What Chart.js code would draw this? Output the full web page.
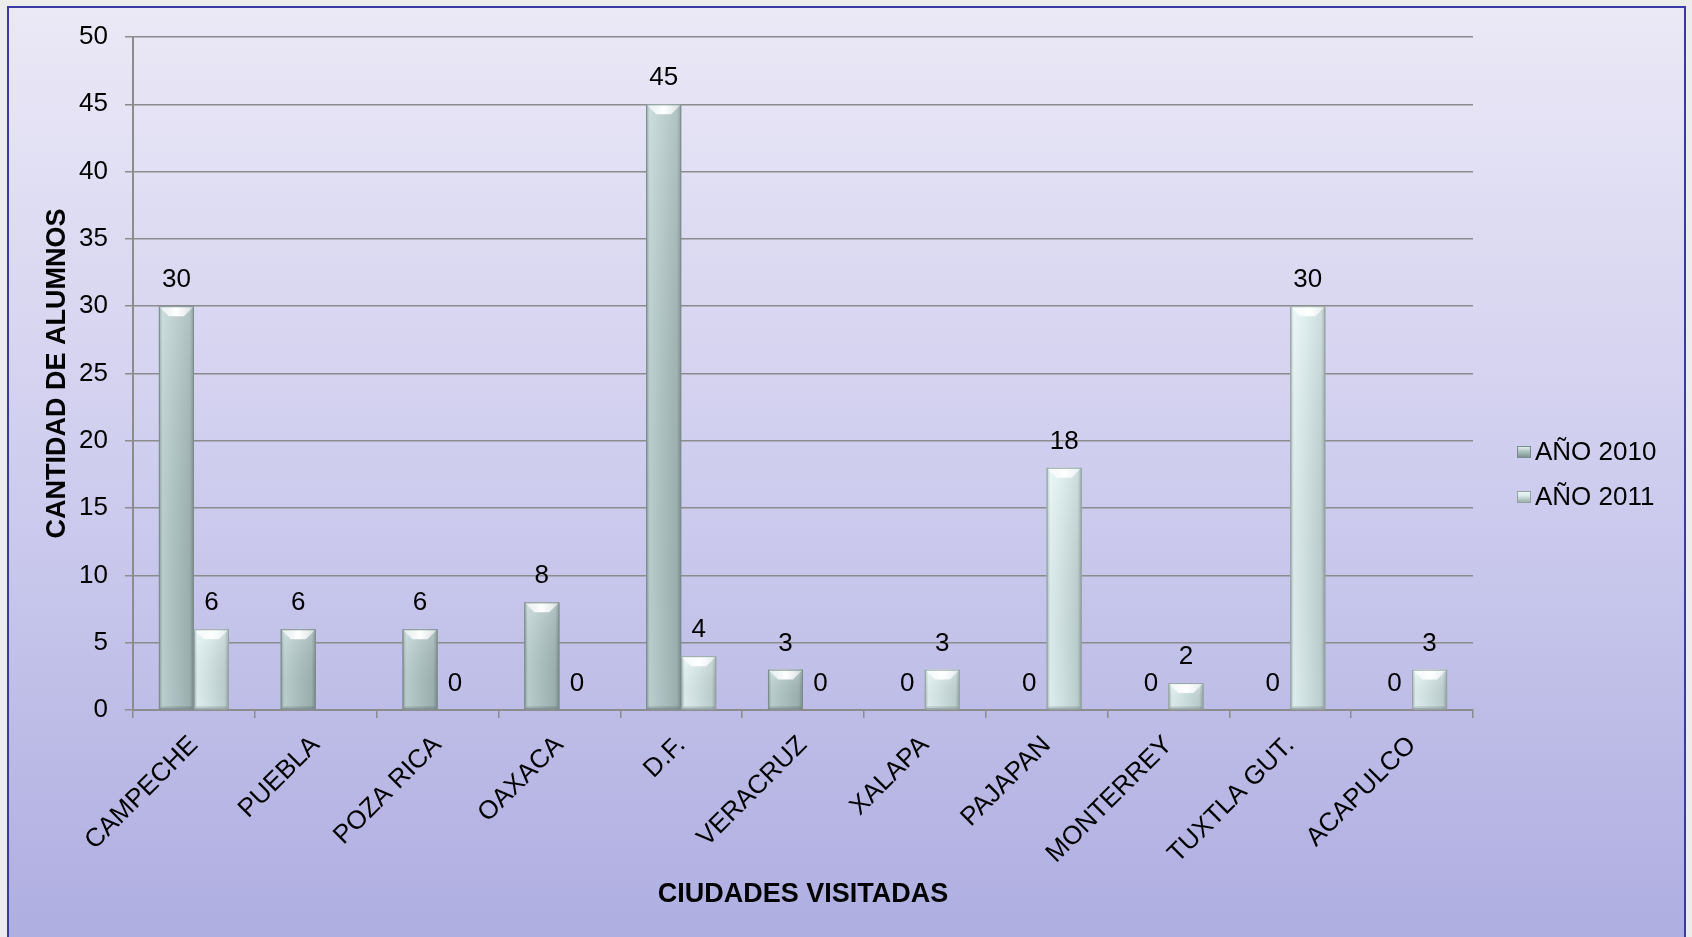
<!DOCTYPE html>
<html><head><meta charset="utf-8">
<script src="https://cdn.jsdelivr.net/npm/chart.js@4.4.1/dist/chart.umd.min.js"></script>
<style>html,body{margin:0;padding:0;background:#ececec;overflow:hidden}#wrap{width:1692px;height:937px;position:relative}canvas{display:block}</style>
</head><body><div id="wrap"><canvas id="c" width="1692" height="937"></canvas></div>
<script>
const categories = ['CAMPECHE','PUEBLA','POZA RICA','OAXACA','D.F.','VERACRUZ','XALAPA','PAJAPAN','MONTERREY','TUXTLA GUT.','ACAPULCO'];
const seriesNames = ['AÑO 2010','AÑO 2011'];
const values2010 = [30, 6, 6, 8, 45, 3, 0, 0, 0, 0, 0];
const values2011 = [6, null, 0, 0, 4, 0, 3, 18, 2, 30, 3];
const yMin = 0, yMax = 50, yStep = 5;
const xTitle = 'CIUDADES VISITADAS';
const yTitle = 'CANTIDAD DE ALUMNOS';

const FONT = "'Liberation Sans', Arial, sans-serif";
const FS = 26;
const palettes = [
  {edge:'#8b9d9d', light:'#c2d6d6', mid:'#b3c8c8', dark:'#a2b6b6', edge2:'#7a8c8c'},
  {edge:'#a8b9b9', light:'#e6f6f6', mid:'#d8eaea', dark:'#c4d6d6', edge2:'#93a3a3'}
];

const bgPlugin = {
  id:'bg',
  beforeDraw(chart){
    const ctx = chart.ctx, W = chart.width, H = chart.height;
    ctx.save();
    ctx.fillStyle = '#ececec';
    ctx.fillRect(0,0,W,H);
    const g = ctx.createLinearGradient(0,8,0,H);
    g.addColorStop(0,'#ebe9f6');
    g.addColorStop(0.5,'#cfcdee');
    g.addColorStop(1,'#aeaee1');
    ctx.fillStyle = g;
    ctx.fillRect(8,7,1677,H);
    ctx.strokeStyle = '#3a3aa2';
    ctx.lineWidth = 2;
    ctx.strokeRect(8,7,1677,H+10);
    ctx.restore();
  }
};

const bevelPlugin = {
  id:'bevel',
  afterDatasetsDraw(chart){
    const ctx = chart.ctx;
    ctx.save();
    chart.data.datasets.forEach((ds,di)=>{
      const meta = chart.getDatasetMeta(di);
      const p = palettes[di];
      meta.data.forEach((bar,i)=>{
        const v = ds.data[i];
        if (v === null || v === 0) return;
        const {x,y,base,width} = bar.getProps(['x','y','base','width'], true);
        const l = x - width/2, r = x + width/2, t = Math.min(y,base), b = Math.max(y,base);
        const h = b - t;
        const g = ctx.createLinearGradient(l,0,r,0);
        g.addColorStop(0,p.edge); g.addColorStop(0.1,p.light); g.addColorStop(0.45,p.mid);
        g.addColorStop(0.88,p.dark); g.addColorStop(1,p.edge2);
        ctx.fillStyle = g; ctx.fillRect(l,t,width,h);
        const vg = ctx.createLinearGradient(0,t,0,b);
        vg.addColorStop(0,'rgba(255,255,255,0.18)'); vg.addColorStop(1,'rgba(0,0,0,0.04)');
        ctx.fillStyle = vg; ctx.fillRect(l,t,width,h);
        const bv = Math.min(10, h/2, width/3.5);
        const tg = ctx.createLinearGradient(l,0,r,0);
        tg.addColorStop(0,'rgba(255,255,255,0.5)'); tg.addColorStop(0.5,'rgba(255,255,255,1)'); tg.addColorStop(1,'rgba(255,255,255,0.45)');
        ctx.beginPath(); ctx.moveTo(l,t); ctx.lineTo(r,t); ctx.lineTo(r-bv,t+bv); ctx.lineTo(l+bv,t+bv); ctx.closePath();
        ctx.fillStyle = tg; ctx.fill();
        ctx.beginPath(); ctx.moveTo(l,b); ctx.lineTo(r,b); ctx.lineTo(r-3,b-3); ctx.lineTo(l+3,b-3); ctx.closePath();
        ctx.fillStyle = 'rgba(0,0,0,0.12)'; ctx.fill();
        ctx.strokeStyle = p.edge2; ctx.lineWidth = 1;
        ctx.strokeRect(l+0.5,t+0.5,width-1,h-1);
      });
    });
    ctx.restore();
  }
};

const labelPlugin = {
  id:'vals',
  afterDatasetsDraw(chart){
    const ctx = chart.ctx;
    ctx.save();
    ctx.font = FS + 'px ' + FONT;
    ctx.fillStyle = '#000';
    ctx.textAlign = 'center';
    ctx.textBaseline = 'middle';
    chart.data.datasets.forEach((ds,di)=>{
      const meta = chart.getDatasetMeta(di);
      meta.data.forEach((bar,i)=>{
        const v = ds.data[i];
        if (v === null || v === undefined) return;
        const {x,y} = bar.getProps(['x','y'], true);
        ctx.fillText(String(v), x, y - 26);
      });
    });
    ctx.restore();
  }
};

const legendPlugin = {
  id:'customLegend',
  afterDraw(chart){
    const ctx = chart.ctx;
    ctx.save();
    ctx.font = FS + 'px ' + FONT;
    ctx.textBaseline = 'middle';
    ctx.textAlign = 'left';
    const ys = [452, 497];
    chart.data.datasets.forEach((ds,di)=>{
      const y = ys[di], p = palettes[di];
      const g = ctx.createLinearGradient(0,y-6,0,y+6);
      g.addColorStop(0,'#f4f8f8'); g.addColorStop(0.4,p.mid); g.addColorStop(1,p.edge2);
      ctx.fillStyle = g;
      ctx.fillRect(1517, y-6, 14, 12);
      ctx.strokeStyle = p.edge2; ctx.lineWidth = 1;
      ctx.strokeRect(1517.5, y-5.5, 13, 11);
      ctx.fillStyle = '#000';
      ctx.fillText(ds.label, 1535, y+1);
    });
    ctx.restore();
  }
};

new Chart(document.getElementById('c'), {
  type:'bar',
  data:{
    labels: categories,
    datasets:[
      {label: seriesNames[0], data: values2010, backgroundColor: palettes[0].mid, borderColor: palettes[0].edge2, borderWidth: 1},
      {label: seriesNames[1], data: values2011, backgroundColor: palettes[1].mid, borderColor: palettes[1].edge2, borderWidth: 1}
    ]
  },
  options:{
    responsive:false,
    devicePixelRatio:1,
    animation:false,
    layout:{padding:{left:30, right:219, top:37, bottom:26}},
    datasets:{bar:{barPercentage:1, categoryPercentage:0.575}},
    plugins:{legend:{display:false}, tooltip:{enabled:false}},
    scales:{
      x:{
        grid:{display:true, drawOnChartArea:false, drawTicks:true, tickLength:8, color:'#8c8c8c', lineWidth:1.5},
        border:{display:true, color:'#8c8c8c', width:2},
        ticks:{font:{size:FS, family:FONT}, color:'#000', maxRotation:45, minRotation:45, autoSkip:false, padding:12},
        title:{display:true, text:xTitle, font:{size:27, weight:'bold', family:FONT}, color:'#000', padding:{top:4, bottom:0}},
        afterFit(s){ s.height = 201; }
      },
      y:{
        min:yMin, max:yMax,
        grid:{color:'#8c8c8c', lineWidth:1.5, tickLength:8},
        border:{display:true, color:'#8c8c8c', width:2},
        ticks:{stepSize:yStep, font:{size:FS, family:FONT}, color:'#000', padding:17},
        title:{display:true, text:yTitle, font:{size:27, weight:'bold', family:FONT}, color:'#000', padding:{top:11, bottom:0}},
        afterFit(s){ s.width = 103; }
      }
    }
  },
  plugins:[bgPlugin, bevelPlugin, labelPlugin, legendPlugin]
});
</script>
</body></html>
